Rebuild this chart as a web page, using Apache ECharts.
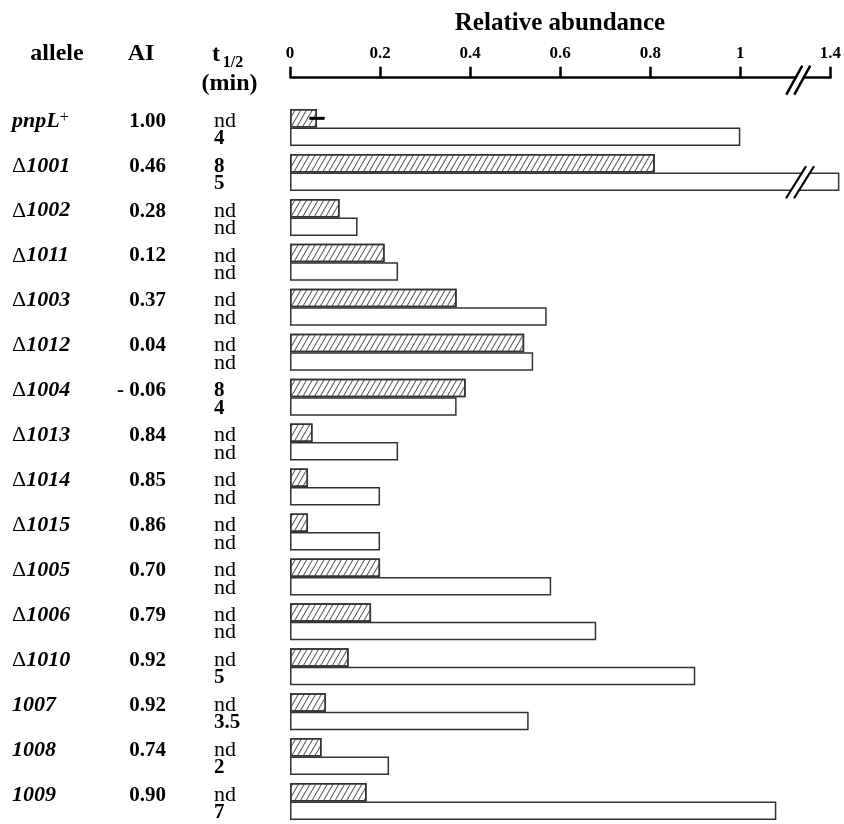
<!DOCTYPE html>
<html><head><meta charset="utf-8">
<script src="https://cdn.jsdelivr.net/npm/echarts@6/dist/echarts.min.js"></script>
<style>html,body{margin:0;padding:0;background:#fff}#c{width:844px;height:824px}</style>
</head><body><div id="c"></div>
<script>
// ---------- data ----------
const alleleNames = ['pnpL','1001','1002','1011','1003','1012','1004','1013','1014','1015','1005','1006','1010','1007','1008','1009'];
const alleleDelta = [false,true,true,true,true,true,true,true,true,true,true,true,true,false,false,false];
const alleleSup   = ['+','','','','','','','','','','','','','','',''];
const aiValues    = ['1.00','0.46','0.28','0.12','0.37','0.04','- 0.06','0.84','0.85','0.86','0.70','0.79','0.92','0.92','0.74','0.90'];
const halfLifeTop    = ['nd','8','nd','nd','nd','nd','8','nd','nd','nd','nd','nd','nd','nd','nd','nd'];
const halfLifeBottom = ['4','5','nd','nd','nd','nd','4','nd','nd','nd','nd','nd','5','3.5','2','7'];
const hatchedValues = [0.06,0.81,0.11,0.21,0.37,0.52,0.39,0.05,0.04,0.04,0.20,0.18,0.13,0.08,0.07,0.17];
const openValues    = [1.00,1.42,0.15,0.24,0.57,0.54,0.37,0.24,0.20,0.20,0.58,0.68,0.90,0.53,0.22,1.08];
const errorBars     = [[0.06, 0.017, 0]];          // [value, half-range, row] on hatched bar
const tickValues    = [0, 0.2, 0.4, 0.6, 0.8, 1, 1.4];
const axisBreak     = {start: 1.13, end: 1.33};
const brokenBars    = [1];                           // rows whose open bar is drawn broken

// ---------- style ----------
const SERIF = '"Liberation Serif", "Times New Roman", serif';
const INK = '#000';
const BAR_W = 18.5;
const AXIS_OFFSET = 27.4;

function midY(baseline, fs) { return baseline - 0.3375 * fs; }

function renderRowText(params, api) {
  const i = params.dataIndex;
  const c = api.coord([0, i])[1];
  const base = c + 0.8;
  const kids = [];
  const name = (alleleDelta[i] ? '{d|\u0394}' : '') + '{i|' + alleleNames[i] + '}' + (alleleSup[i] ? '{s|' + alleleSup[i] + '}' : '');
  kids.push({type:'text', x: 12, y: midY(base, 22), style: {
    text: name, align: 'left', verticalAlign: 'middle',
    rich: {
      d: {fontFamily: SERIF, fontSize: 22, fontWeight: 'normal', fill: INK},
      i: {fontFamily: SERIF, fontSize: 22, fontWeight: 'bold', fontStyle: 'italic', fill: INK},
      s: {fontFamily: SERIF, fontSize: 16, fontWeight: 'normal', fill: INK, verticalAlign: 'top'}
    }
  }});
  kids.push({type:'text', x: 166, y: midY(base, 21), style: {
    text: aiValues[i], align: 'right', verticalAlign: 'middle',
    font: 'bold 21px ' + SERIF, fill: INK
  }});
  [[halfLifeTop[i], base], [halfLifeBottom[i], base + 17.5]].forEach(([t, b]) => {
    const nd = t === 'nd';
    const fs = nd ? 22 : 21;
    kids.push({type:'text', x: 214, y: midY(b, fs), style: {
      text: t, align: 'left', verticalAlign: 'middle',
      font: (nd ? 'normal ' : 'bold ') + fs + 'px ' + SERIF, fill: INK
    }});
  });
  return {type: 'group', children: kids};
}

function slashPair(cx, cy, dxh, up, down, lw) {
  const sep = 4;
  const mk = (off) => ({type:'line', shape: {x1: cx + off - dxh * (down/ (up+down)) * 2, y1: cy + down, x2: cx + off + dxh * (up/(up+down)) * 2, y2: cy - up},
    style: {stroke: INK, lineWidth: lw}});
  const a = mk(-sep), b = mk(sep);
  const fill = {type:'polygon', shape: {points: [
    [a.shape.x1 + 1, a.shape.y1], [a.shape.x2 + 1, a.shape.y2], [b.shape.x2 - 1, b.shape.y2], [b.shape.x1 - 1, b.shape.y1]]},
    style: {fill: '#fff'}};
  return [fill, a, b];
}

function renderBreaks(params, api) {
  const kind = api.value(2);
  const row = api.value(1);
  const p = api.coord([axisBreak.start, row]);
  if (kind === 0) {
    const yAxisLine = params.coordSys.y - AXIS_OFFSET;
    return {type:'group', children: slashPair(p[0], yAxisLine + 1.5, 8, 13.5, 15.5, 2.5)};
  }
  return {type:'group', children: slashPair(p[0] + 1.5, p[1] + BAR_W / 2, 10, 15.5, 16.5, 2.2)};
}

function renderError(params, api) {
  const v = api.value(0), e = api.value(1), row = api.value(2);
  const a = api.coord([v - e, row]), b = api.coord([v + e, row]);
  const y = a[1] - BAR_W / 2;
  return {type:'line', shape: {x1: a[0], y1: y, x2: b[0], y2: y}, style: {stroke: INK, lineWidth: 3}};
}

const chart = echarts.init(document.getElementById('c'), null, {renderer: 'canvas'});
chart.setOption({
  animation: false,
  backgroundColor: '#fff',
  grid: {left: 290, top: 105.1, width: 541.2, height: 723.2, containLabel: false},
  xAxis: {
    type: 'value', position: 'top', min: 0, max: 1.4, offset: AXIS_OFFSET,
    breaks: [{start: axisBreak.start, end: axisBreak.end, gap: 0}],
    breakArea: {show: false},
    axisLine: {show: true, lineStyle: {color: INK, width: 2.5}},
    axisTick: {show: true, length: 11, inside: false, lineStyle: {color: INK, width: 2.5}, customValues: tickValues},
    axisLabel: {show: true, margin: 16, customValues: tickValues, color: INK,
      fontFamily: SERIF, fontWeight: 'bold', fontSize: 17, formatter: v => String(v)},
    splitLine: {show: false}
  },
  yAxis: {type: 'category', data: alleleNames, inverse: true, show: false},
  graphic: [
    {type:'text', x: 560, y: midY(31.7, 25), style: {text: 'Relative abundance', align:'center', verticalAlign:'middle', font: 'bold 25px ' + SERIF, fill: INK}},
    {type:'text', x: 57, y: midY(61.7, 24), style: {text: 'allele', align:'center', verticalAlign:'middle', font: 'bold 24px ' + SERIF, fill: INK}},
    {type:'text', x: 141, y: midY(61.7, 24), style: {text: 'AI', align:'center', verticalAlign:'middle', font: 'bold 24px ' + SERIF, fill: INK}},
    {type:'text', x: 216, y: midY(62.5, 24), style: {text: 't', align:'center', verticalAlign:'middle', font: 'bold 24px ' + SERIF, fill: INK}},
    {type:'text', x: 233, y: midY(68, 16), style: {text: '1/2', align:'center', verticalAlign:'middle', font: 'bold 16px ' + SERIF, fill: INK}},
    {type:'text', x: 229.5, y: midY(92, 24), style: {text: '(min)', align:'center', verticalAlign:'middle', font: 'bold 24px ' + SERIF, fill: INK}}
  ],
  series: [
    {type: 'bar', name: 'hatched', data: hatchedValues, barWidth: BAR_W, barGap: '0%', clip: false, silent: true,
      itemStyle: {color: '#fff', borderColor: '#333', borderWidth: 1.5,
        decal: {symbol: 'rect', symbolSize: 1, dashArrayX: [1, 0], dashArrayY: [0.8, 3.6], rotation: -Math.PI / 3, color: '#555', backgroundColor: null}}},
    {type: 'bar', name: 'open', data: openValues, barWidth: BAR_W, barGap: '0%', clip: false, silent: true,
      itemStyle: {color: '#fff', borderColor: '#333', borderWidth: 1.5}},
    {type: 'custom', name: 'rows', clip: false, silent: true, z: 5,
      data: alleleNames.map((_, i) => [0, i]), renderItem: renderRowText},
    {type: 'custom', name: 'error', clip: false, silent: true, z: 6,
      data: errorBars, renderItem: renderError},
    {type: 'custom', name: 'breaks', clip: false, silent: true, z: 10,
      encode: {x: 0, y: 1},
      data: [[axisBreak.start, 0, 0]].concat(brokenBars.map(r => [axisBreak.start, r, 1])), renderItem: renderBreaks}
  ]
});
</script></body></html>
